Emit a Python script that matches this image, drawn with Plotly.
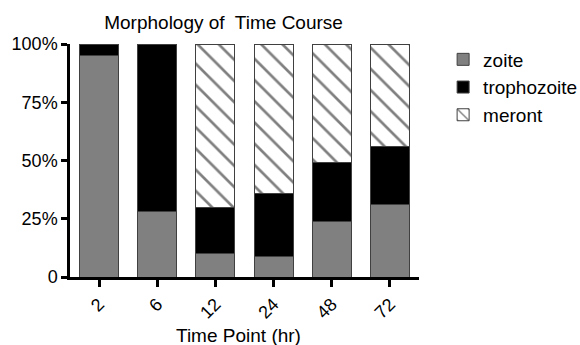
import plotly.graph_objects as go

time_points = ["2", "6", "12", "24", "48", "72"]
zoite = [95, 28, 10, 9, 24, 31]
trophozoite = [5, 72, 20, 27, 25, 25]
meront = [0, 0, 70, 64, 51, 44]

y_ticks = [0, 25, 50, 75, 100]
y_labels = ["0", "25%", "50%", "75%", "100%"]

FONT = "Liberation Sans, Arial, sans-serif"
outline = dict(color="#404040", width=1)

fig = go.Figure()
fig.add_trace(go.Bar(x=time_points, y=zoite, name="zoite",
                     marker=dict(color="#808080", line=outline)))
fig.add_trace(go.Bar(x=time_points, y=trophozoite, name="trophozoite",
                     marker=dict(color="#000000", line=outline)))
fig.add_trace(go.Bar(x=time_points, y=meront, name="meront",
                     marker=dict(color="white", line=outline,
                                 pattern=dict(shape="\\", fgcolor="black", bgcolor="white",
                                              size=15, solidity=0.18))))

fig.update_layout(
    barmode="stack",
    bargap=0.33,
    width=580, height=345,
    margin=dict(l=68, r=161, t=44, b=68),
    plot_bgcolor="white", paper_bgcolor="white",
    font=dict(family=FONT, size=18, color="black"),
    title=dict(text="Morphology of  Time Course", font=dict(size=19),
               x=0.44, xref="paper", xanchor="center",
               y=0.936, yref="container", yanchor="middle"),
    legend=dict(x=0.764, xref="container", xanchor="left", y=1.015, yanchor="top",
                traceorder="normal", font=dict(size=19),
                bgcolor="rgba(0,0,0,0)", borderwidth=0),
    xaxis=dict(type="category", range=[-0.5, 5.5], showline=True, linecolor="black",
               linewidth=2.5, ticks="outside", ticklen=7, tickwidth=2.5, tickcolor="black",
               tickangle=-45, showgrid=False, zeroline=False),
    yaxis=dict(range=[0, 100], showline=True, linecolor="black", linewidth=2.5,
               ticks="outside", ticklen=6, tickwidth=2.5, tickcolor="black",
               tickvals=y_ticks, ticktext=y_labels, showgrid=False, zeroline=False),
    annotations=[dict(text="Time Point (hr)", x=0.483, y=-0.25, xref="paper", yref="paper",
                      xanchor="center", yanchor="middle", showarrow=False,
                      font=dict(size=19))],
)

fig.write_html("out.html")
